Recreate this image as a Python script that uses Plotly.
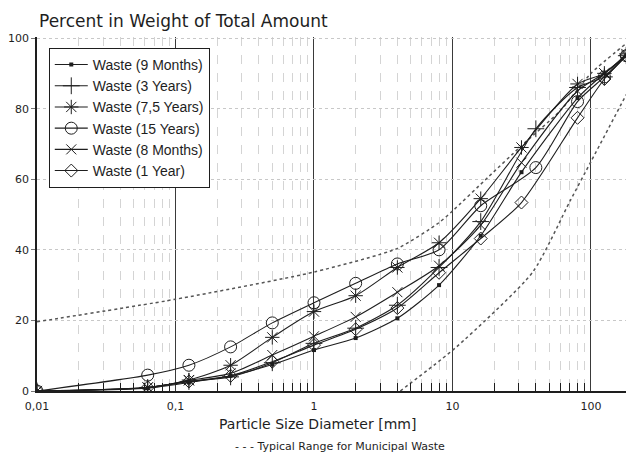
import plotly.graph_objects as go

# ---------------- data ----------------
series_names = ["Waste (9 Months)", "Waste (3 Years)", "Waste (7,5 Years)",
                "Waste (15 Years)", "Waste (8 Months)", "Waste (1 Year)"]

x_9m = [0.01, 0.063, 0.125, 0.25, 0.5, 1, 2, 4, 8, 16, 31.5, 80, 125, 180]
y_9m = [0, 0.8, 2.4, 4.3, 7.5, 11.6, 15, 20.6, 30, 44, 62, 83, 90, 95]

x_3y = [0.01, 0.063, 0.125, 0.25, 0.5, 1, 2, 4, 8, 16, 40, 80, 125, 180]
y_3y = [0, 1, 2.7, 4, 8, 13.5, 17.8, 24.3, 35, 48, 74.3, 86, 89, 95]

x_75y = [0.01, 0.063, 0.125, 0.25, 0.5, 1, 2, 4, 8, 16, 31.5, 80, 125, 180]
y_75y = [0, 1, 3.1, 7.3, 15.2, 22.5, 27, 35, 42, 54.5, 69, 87, 90, 95.5]

x_15y = [0.01, 0.063, 0.125, 0.25, 0.5, 1, 2, 4, 8, 16, 40, 80, 125, 180]
y_15y = [0, 4.5, 7.3, 12.5, 19.3, 25, 30.5, 36, 40, 52.5, 63.3, 82, 89, 95]

x_8m = [0.01, 0.063, 0.125, 0.25, 0.5, 1, 2, 4, 8, 16, 31.5, 80, 125, 180]
y_8m = [0, 1, 3, 5, 10.2, 15.5, 21, 28, 35.5, 47, 64.7, 85, 90, 95]

x_1y = [0.01, 0.063, 0.125, 0.25, 0.5, 1, 2, 4, 8, 16, 31.5, 80, 125, 180]
y_1y = [0, 1, 2.7, 4.3, 8.3, 13, 17.5, 23.5, 33.5, 43.2, 53.4, 77.4, 88.4, 95]

# typical range for municipal waste (dotted bounds)
x_upper = [0.01, 0.1, 1, 4, 8, 10, 18, 31.5, 60, 100, 180]
y_upper = [19.6, 26, 33.7, 40.4, 47.7, 51, 60.5, 69.5, 79.4, 90, 98.5]
x_lower = [4.2, 10.7, 38, 71, 100, 180]
y_lower = [0, 12.5, 33.7, 54, 65, 84]

x_tick_vals = [0.01, 0.1, 1, 10, 100]
x_tick_text = ["0,01", "0,1", "1", "10", "100"]
y_tick_vals = [0, 20, 40, 60, 80, 100]

minor_vals = [m * d for d in (0.01, 0.1, 1, 10, 100) for m in range(2, 10) if m * d <= 180]

# ---------------- figure ----------------
FONT = "DejaVu Sans"
ink = "#1e1e1e"

styles = [
    dict(symbol="square", size=4, line=dict(width=0)),
    dict(symbol="cross-thin-open", size=12, line=dict(width=1, color=ink)),
    dict(symbol="asterisk-open", size=12, line=dict(width=1, color=ink)),
    dict(symbol="circle-open", size=12, line=dict(width=1, color=ink)),
    dict(symbol="x-thin-open", size=10, line=dict(width=1, color=ink)),
    dict(symbol="diamond-open", size=10, line=dict(width=1, color=ink)),
]
xs = [x_9m, x_3y, x_75y, x_15y, x_8m, x_1y]
ys = [y_9m, y_3y, y_75y, y_15y, y_8m, y_1y]

fig = go.Figure()

for xb, yb in ((x_upper, y_upper), (x_lower, y_lower)):
    fig.add_trace(go.Scatter(x=xb, y=yb, mode="lines", showlegend=False,
                             line=dict(color="#555", width=1.5, dash="dot", shape="spline", smoothing=0.6),
                             hoverinfo="skip"))

for name, xv, yv, st in zip(series_names, xs, ys, styles):
    fig.add_trace(go.Scatter(
        x=xv, y=yv, name=name, mode="lines+markers",
        line=dict(color=ink, width=1.1, shape="spline", smoothing=0.7),
        marker=dict(color=ink, **st),
    ))

fig.update_layout(
    width=626, height=461,
    margin=dict(l=37, r=0, t=37, b=70),
    paper_bgcolor="white", plot_bgcolor="white",
    font=dict(family=FONT, color=ink, size=12),
    showlegend=True,
    legend=dict(x=0.02, y=0.969, xanchor="left", yanchor="top",
                bgcolor="white", bordercolor=ink, borderwidth=1,
                font=dict(family="Liberation Sans", size=14, color=ink),
                tracegroupgap=0, itemwidth=33),
)

fig.update_xaxes(
    type="log", range=[-2, 2.253], automargin=False,
    tickvals=x_tick_vals, ticktext=x_tick_text,
    ticks="", tickfont=dict(size=11, family=FONT), ticklabelstandoff=4,
    showline=True, linecolor=ink, linewidth=1.5,
    showgrid=True, gridcolor="#3a3a3a", gridwidth=1.2,
    zeroline=False,
    minor=dict(tickmode="array", tickvals=minor_vals, ticks="inside", ticklen=8,
               tickcolor=ink, tickwidth=1, showgrid=True, gridcolor="#d4d4d4",
               griddash="dash", gridwidth=1),
)
fig.update_yaxes(
    range=[0, 100.3], tickvals=y_tick_vals, automargin=False,
    ticks="outside", ticklen=4, tickcolor="#777",
    tickfont=dict(size=11, family=FONT),
    showline=True, linecolor=ink, linewidth=1.5,
    showgrid=True, gridcolor="#c8c8c8", griddash="dot", gridwidth=1,
    zeroline=False,
)

fig.add_annotation(text="Percent in Weight of Total Amount", xref="paper", yref="paper",
                   x=0.0, y=1.045, xanchor="left", yanchor="middle", showarrow=False,
                   font=dict(size=17, family=FONT, color=ink))
fig.add_annotation(text="Particle Size Diameter [mm]", xref="paper", yref="paper",
                   x=0.477, y=-0.093, xanchor="center", yanchor="middle", showarrow=False,
                   font=dict(size=14, family=FONT, color=ink))
fig.add_annotation(text="- - - Typical Range for Municipal Waste", xref="paper", yref="paper",
                   x=0.514, y=-0.158, xanchor="center", yanchor="middle", showarrow=False,
                   font=dict(size=11, family=FONT, color=ink))

fig.write_html("out.html", config={"displayModeBar": False},
               post_script="document.body.style.margin='0';document.body.style.overflow='hidden';")
